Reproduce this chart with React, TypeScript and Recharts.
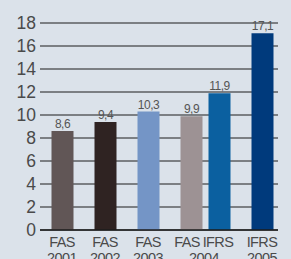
import React from 'react';
import { BarChart, Bar, XAxis, YAxis, CartesianGrid, Cell, LabelList, ReferenceLine } from 'recharts';

const years = ['2001', '2002', '2003', '2004', '2005'];
const fasValues = [8.6, 9.4, 10.3, 9.9, null];
const ifrsValues = [null, null, null, 11.9, 17.1];
const fasColors = ['#615656', '#2f2322', '#7495c6', '#9d9294', '#9d9294'];
const ifrsColors = ['#0b60a0', '#0b60a0', '#0b60a0', '#0b60a0', '#003a7c'];
const yTicks = [0, 2, 4, 6, 8, 10, 12, 14, 16, 18];

const data = years.map((year, i) => ({ year, fas: fasValues[i], ifrs: ifrsValues[i] }));

const FONT = '"Liberation Sans", Arial, sans-serif';
const TEXT = '#4a4a4a';

const fmt = (v: any) => (v == null ? '' : String(v).replace('.', ','));

// two-line tick: "FAS"/"IFRS" on top, year below
const makeTick = (series: 'fas' | 'ifrs') => (props: any) => {
  const { x, payload } = props;
  const i = years.indexOf(String(payload.value));
  const hasFas = fasValues[i] != null;
  const hasIfrs = ifrsValues[i] != null;
  const shown = series === 'fas' ? hasFas : hasIfrs;
  if (!shown) return <g />;
  const top = series === 'fas' ? 'FAS' : 'IFRS';
  // when both bars share a year, the year sits once between them (drawn by ifrs)
  let year: string | null = years[i];
  let topDx = 0;
  let yearDx = 0;
  if (hasFas && hasIfrs) {
    if (series === 'fas') {
      year = null;
      topDx = -4;
    } else {
      topDx = -1;
      yearDx = -15;
    }
  }
  return (
    <g transform={`translate(${x},${230})`}>
      <text textAnchor="middle" fill={TEXT} fontSize={14.5} fontFamily={FONT} letterSpacing={-0.6}>
        <tspan x={topDx} y={17}>{top}</tspan>
        {year && <tspan x={yearDx} y={32.5}>{year}</tspan>}
      </text>
    </g>
  );
};

const FasTick = makeTick('fas');
const IfrsTick = makeTick('ifrs');

export default function App() {
  return (
    <div style={{ position: 'absolute', left: 0, top: 0, width: 291, height: 259, background: '#dbe2ea' }}>
      <BarChart width={291} height={259} data={data} margin={{ top: 23, right: 13, bottom: 27, left: 0 }}>
        <CartesianGrid xAxisId="fas" vertical={false} stroke="#1c1c1c" strokeWidth={1} />
        <XAxis
          xAxisId="fas"
          dataKey="year"
          height={1}
          interval={0}
          padding={{ left: 0.5, right: 22.5 }}
          axisLine={false}
          tickLine={false}
          tickSize={0}
          tickMargin={0}
          tick={FasTick}
        />
        <XAxis
          xAxisId="ifrs"
          dataKey="year"
          height={1}
          interval={0}
          padding={{ left: 28.5, right: -5.5 }}
          axisLine={false}
          tickLine={false}
          tickSize={0}
          tickMargin={0}
          tick={IfrsTick}
        />
        <YAxis
          width={40}
          domain={[0, 18]}
          ticks={yTicks}
          interval={0}
          axisLine={false}
          tickLine={false}
          tickSize={0}
          tickMargin={4}
          tick={{ fill: TEXT, fontSize: 17.5, fontFamily: FONT }}
        />
        <Bar xAxisId="fas" dataKey="fas" barSize={22} isAnimationActive={false}>
          {data.map((d, i) => (
            <Cell key={d.year} fill={fasColors[i]} />
          ))}
          <LabelList dataKey="fas" position="top" offset={3} formatter={fmt} fill="#555" fontSize={12} fontFamily={FONT} letterSpacing={-0.5} />
        </Bar>
        <Bar xAxisId="ifrs" dataKey="ifrs" barSize={22} isAnimationActive={false}>
          {data.map((d, i) => (
            <Cell key={d.year} fill={ifrsColors[i]} />
          ))}
          <LabelList dataKey="ifrs" position="top" offset={3} formatter={fmt} fill="#555" fontSize={12} fontFamily={FONT} letterSpacing={-0.5} />
        </Bar>
        <ReferenceLine xAxisId="fas" y={0} stroke="#1c1c1c" strokeWidth={1.5} />
      </BarChart>
    </div>
  );
}
